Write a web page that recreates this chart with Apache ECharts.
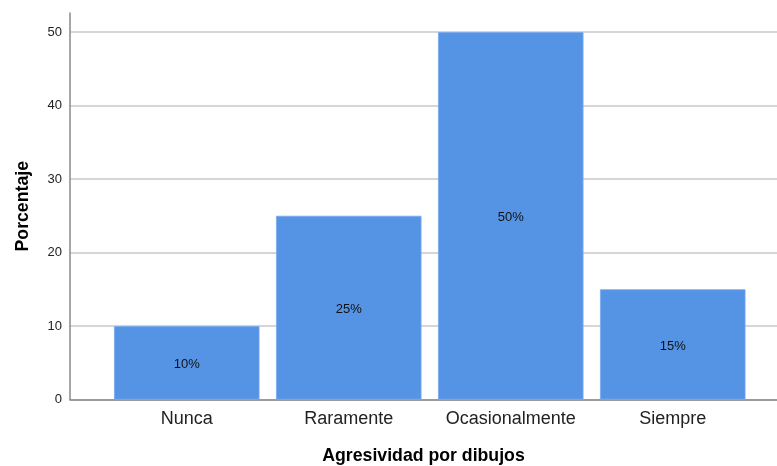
<!DOCTYPE html>
<html>
<head>
<meta charset="utf-8">
<script src="https://cdn.jsdelivr.net/npm/echarts@6/dist/echarts.min.js"></script>
<style>html,body{margin:0;padding:0;background:#fff}#c{width:777px;height:466px}</style>
</head>
<body>
<div id="c"></div>
<script>
var categories = ['Nunca', 'Raramente', 'Ocasionalmente', 'Siempre'];
var percentages = [10, 25, 50, 15];
var yTicks = [0, 10, 20, 30, 40, 50];
var xTitle = 'Agresividad por dibujos';
var yTitle = 'Porcentaje';

var chart = echarts.init(document.getElementById('c'), null, {renderer: 'canvas'});
var yMax = 52.6;
var font = 'Liberation Sans, Arial, sans-serif';
chart.setOption({
  animation: false,
  grid: [
    {left: 70, right: 0, top: 13, bottom: 66.5, outerBoundsMode: 'none', containLabel: false},
    {left: 105.75, width: 648, top: 13, bottom: 66.5, outerBoundsMode: 'none', containLabel: false}
  ],
  xAxis: [
    {type: 'category', gridIndex: 0, data: [''],
     axisLine: {show: true, lineStyle: {color: '#888', width: 1.5}},
     axisTick: {show: false}, axisLabel: {show: false},
     name: xTitle, nameLocation: 'middle', nameGap: 48,
     nameTextStyle: {fontFamily: font, fontSize: 17.7, fontWeight: 'bold', color: '#000'}},
    {type: 'category', gridIndex: 1, data: categories,
     axisLine: {show: false}, axisTick: {show: false},
     axisLabel: {interval: 0, margin: 11, fontFamily: font, fontSize: 18, color: '#222'}}
  ],
  yAxis: [
    {type: 'value', gridIndex: 0, min: 0, max: yMax,
     axisLine: {show: true, lineStyle: {color: '#888', width: 1.5}},
     axisTick: {show: false, customValues: yTicks},
     axisLabel: {margin: 8, fontFamily: font, fontSize: 13, color: '#222',
       customValues: yTicks},
     splitLine: {show: true, lineStyle: {color: '#c8c8c8', width: 1.5}},
     name: yTitle, nameLocation: 'middle', nameGap: 38,
     nameTextStyle: {fontFamily: font, fontSize: 17.7, fontWeight: 'bold', color: '#000'}},
    {type: 'value', gridIndex: 1, min: 0, max: yMax, show: false,
     splitLine: {show: false}}
  ],
  series: [{
    type: 'bar', xAxisIndex: 1, yAxisIndex: 1,
    data: percentages,
    barCategoryGap: '10.2%',
    itemStyle: {color: '#5594e4', borderColor: '#7aaaf0', borderWidth: 0.8},
    label: {show: true, position: 'inside', offset: [0, 2], formatter: '{c}%',
      fontFamily: font, fontSize: 13, color: '#111'}
  }]
});
</script>
</body>
</html>
